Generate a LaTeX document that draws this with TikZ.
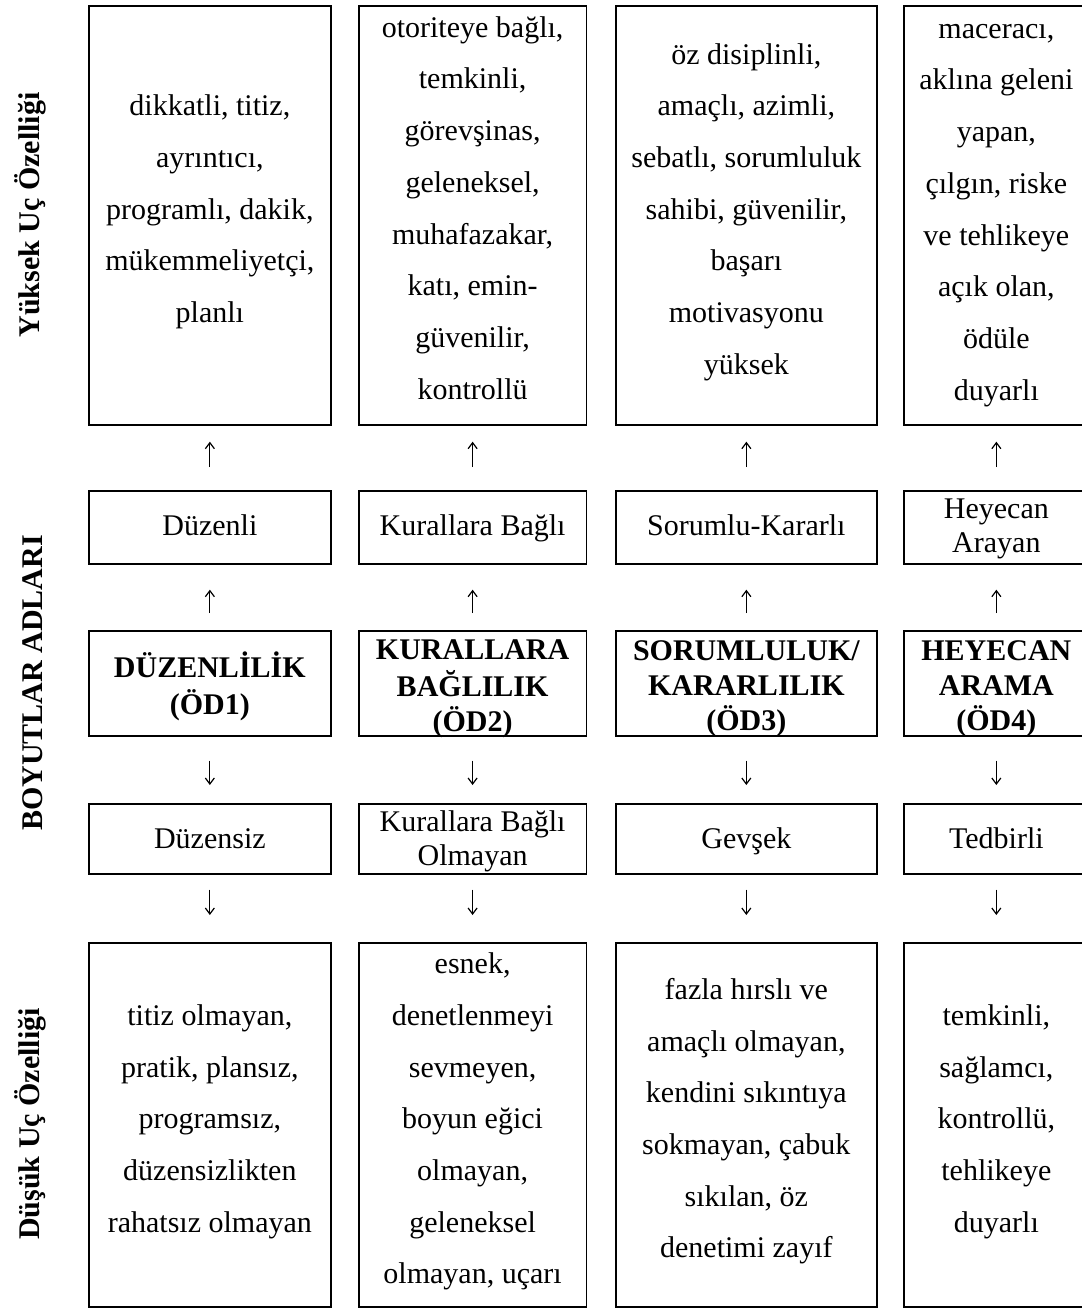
\documentclass[tikz,border=0pt]{standalone}
\usepackage{fontspec}
\setmainfont{Liberation Serif}
\usetikzlibrary{arrows.meta}
\begin{document}
\begin{tikzpicture}[x=1pt,y=-1pt,
  boxnode/.style={draw=black,line width=1.7pt,inner sep=0pt,anchor=north west},
  bigtext/.style={align=center,inner sep=0pt,font=\fontsize{30}{51.7}\selectfont},
  midtext/.style={align=center,inner sep=0pt,font=\fontsize{30}{34}\selectfont},
  boldtext/.style={align=center,inner sep=0pt,font=\fontsize{30}{35}\selectfont\bfseries},
  sidelabel/.style={rotate=90,inner sep=0pt,font=\fontsize{30}{34}\selectfont\bfseries},
  arr/.style={line width=1.2pt,-{Straight Barb[length=6pt,width=9pt,line width=1.2pt]}}
]
\useasboundingbox[fill=white] (0,0) rectangle (1081,1308);

% column geometry: left x and width
\def\colxa{88}\def\colwa{242}
\def\colxb{358}\def\colwb{227.5}
\def\colxc{615}\def\colwc{261}
\def\colxd{903}\def\colwd{185}

\foreach \n/\x/\w in {1/\colxa/\colwa,2/\colxb/\colwb,3/\colxc/\colwc,4/\colxd/\colwd}{
  \node[boxnode,minimum width=\w pt,minimum height=419pt] (top\n) at (\x,5) {};
  \node[boxnode,minimum width=\w pt,minimum height=73pt] (up\n) at (\x,490) {};
  \node[boxnode,minimum width=\w pt,minimum height=105pt] (dim\n) at (\x,630) {};
  \node[boxnode,minimum width=\w pt,minimum height=70pt] (low\n) at (\x,803) {};
  \node[boxnode,minimum width=\w pt,minimum height=364pt] (bot\n) at (\x,942) {};
}

% top texts
\node[bigtext] (tt1) at ([yshift=6.5pt]top1.center) {\strut dikkatli, titiz,\\ayrıntıcı,\\programlı, dakik,\\mükemmeliyetçi,\\planlı\strut};
\node[bigtext] (tt2) at ([yshift=7.5pt]top2.center) {\strut otoriteye bağlı,\\temkinli,\\görevşinas,\\geleneksel,\\muhafazakar,\\katı, emin-\\güvenilir,\\kontrollü\strut};
\node[bigtext] (tt3) at ([yshift=6.5pt]top3.center) {\strut öz disiplinli,\\amaçlı, azimli,\\sebatlı, sorumluluk\\sahibi, güvenilir,\\başarı\\motivasyonu\\yüksek\strut};
\node[bigtext] (tt4) at ([yshift=6.5pt]top4.center) {\strut maceracı,\\aklına geleni\\yapan,\\çılgın, riske\\ve tehlikeye\\açık olan,\\ödüle\\duyarlı\strut};

% upper pole names
\node[midtext] (ut1) at ([yshift=-1pt]up1.center) {\strut Düzenli\strut};
\node[midtext] (ut2) at ([yshift=-1pt]up2.center) {\strut Kurallara Bağlı\strut};
\node[midtext] (ut3) at ([yshift=-1pt]up3.center) {\strut Sorumlu-Kararlı\strut};
\node[midtext] (ut4) at ([yshift=-1pt]up4.center) {\strut Heyecan\\Arayan\strut};

% dimension names
\node[boldtext] (dt1) at ([yshift=-5pt]dim1.center) {\strut DÜZENLİLİK\\(ÖD1)\strut};
\node[boldtext] (dt2) at ([yshift=-5pt]dim2.center) {\strut KURALLARA\\BAĞLILIK\\(ÖD2)\strut};
\node[boldtext] (dt3) at ([yshift=-5pt]dim3.center) {\strut SORUMLULUK/\\KARARLILIK\\(ÖD3)\strut};
\node[boldtext] (dt4) at ([yshift=-5pt]dim4.center) {\strut HEYECAN\\ARAMA\\(ÖD4)\strut};

% lower pole names
\node[midtext] (lt1) at ([yshift=-3pt]low1.center) {\strut Düzensiz\strut};
\node[midtext] (lt2) at ([yshift=-3pt]low2.center) {\strut Kurallara Bağlı\\Olmayan\strut};
\node[midtext] (lt3) at ([yshift=-3pt]low3.center) {\strut Gevşek\strut};
\node[midtext] (lt4) at ([yshift=-3pt]low4.center) {\strut Tedbirli\strut};

% bottom texts
\node[bigtext] (bt1) at ([yshift=6.5pt]bot1.center) {\strut titiz olmayan,\\pratik, plansız,\\programsız,\\düzensizlikten\\rahatsız olmayan\strut};
\node[bigtext] (bt2) at ([yshift=6.5pt]bot2.center) {\strut esnek,\\denetlenmeyi\\sevmeyen,\\boyun eğici\\olmayan,\\geleneksel\\olmayan, uçarı\strut};
\node[bigtext] (bt3) at ([yshift=6.5pt]bot3.center) {\strut fazla hırslı ve\\amaçlı olmayan,\\kendini sıkıntıya\\sokmayan, çabuk\\sıkılan, öz\\denetimi zayıf\strut};
\node[bigtext] (bt4) at ([yshift=6.5pt]bot4.center) {\strut temkinli,\\sağlamcı,\\kontrollü,\\tehlikeye\\duyarlı\strut};

% arrows
\foreach \n in {1,2,3,4}{
  \draw[arr,shorten <=23pt,shorten >=16pt] (up\n.north) -- (top\n.south);
  \draw[arr,shorten <=17pt,shorten >=25pt] (dim\n.north) -- (up\n.south);
  \draw[arr,shorten <=24pt,shorten >=18pt] (dim\n.south) -- (low\n.north);
  \draw[arr,shorten <=15pt,shorten >=27pt] (low\n.south) -- (bot\n.north);
}

% side labels
\node[sidelabel] (s1) at (30,215) {Yüksek Uç Özelliği};
\node[sidelabel] (s2) at (33,683) {BOYUTLAR ADLARI};
\node[sidelabel] (s3) at (30,1124) {Düşük Uç Özelliği};
\end{tikzpicture}
\end{document}
